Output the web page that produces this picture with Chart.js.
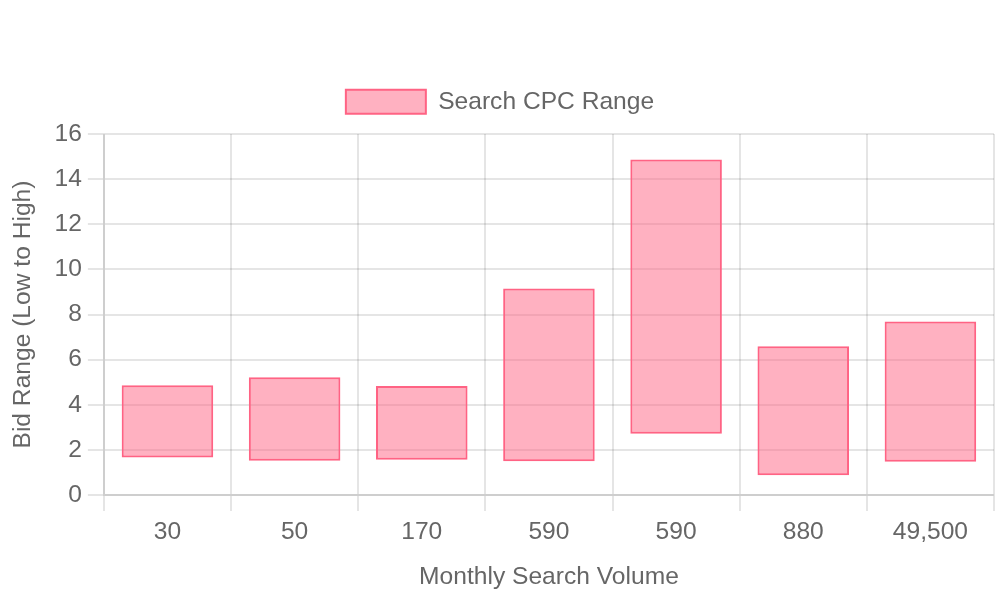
<!DOCTYPE html>
<html>
<head>
<meta charset="utf-8">
<script src="https://cdn.jsdelivr.net/npm/chart.js@4"></script>
<style>
  html, body { margin: 0; padding: 0; background: #fff; width: 1000px; height: 600px; }
  /* chart is laid out at 500x300 and drawn at 2x, then shown at 1000x600 */
  #wrap { width: 500px; height: 300px; transform: scale(2); transform-origin: 0 0; }
</style>
</head>
<body>
<div id="wrap"><canvas id="cpc-chart"></canvas></div>
<script>
// Chart data
const volumes = ['30', '50', '170', '590', '590', '880', '49,500'];
const lowBids = [1.66, 1.52, 1.56, 1.50, 2.71, 0.87, 1.47];
const highBids = [4.86, 5.22, 4.83, 9.15, 14.88, 6.59, 7.69];

const ranges = lowBids.map((low, i) => [low, highBids[i]]);

Chart.defaults.font.family = '"Liberation Sans", Arial, sans-serif';
Chart.defaults.font.size = 12.3;

const cpcChart = new Chart(document.getElementById('cpc-chart'), {
    type: 'bar',
    data: {
        labels: volumes,
        datasets: [{
            label: 'Search CPC Range',
            data: ranges,
            backgroundColor: 'rgba(255, 99, 132, 0.5)',
            borderColor: 'rgb(255, 99, 132)',
            borderWidth: 1,
            borderSkipped: false
        }]
    },
    options: {
        responsive: true,
        maintainAspectRatio: false,
        devicePixelRatio: 2,
        animation: false,
        plugins: {
            title: {
                display: true,
                text: ''
            },
            legend: {
                labels: { boxHeight: 12 }
            },
            tooltip: { enabled: false }
        },
        scales: {
            x: {
                title: {
                    display: true,
                    text: 'Monthly Search Volume',
                    padding: { top: 5, bottom: 4 }
                }
            },
            y: {
                min: 0,
                max: 16,
                ticks: { stepSize: 2 },
                title: {
                    display: true,
                    text: 'Bid Range (Low to High)',
                    padding: { top: 4, bottom: 5.5 }
                }
            },
            // empty strip on the right edge
            spacer: {
                position: 'right',
                grid: { display: false },
                border: { display: false },
                ticks: { display: false },
                afterFit: (scale) => { scale.width = 3; }
            }
        }
    }
});
</script>
</body>
</html>
